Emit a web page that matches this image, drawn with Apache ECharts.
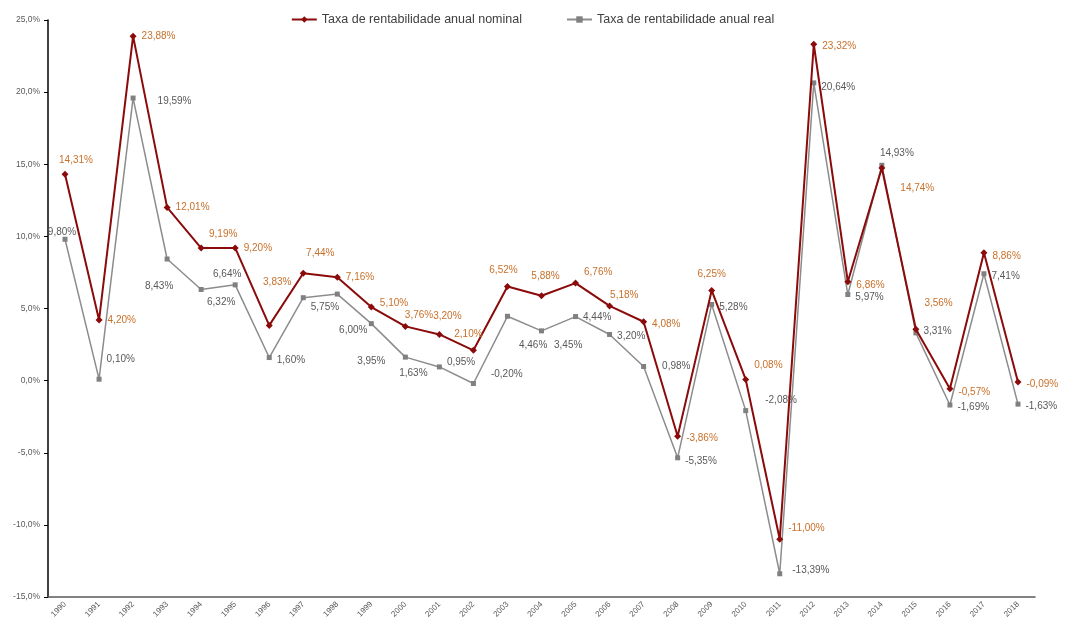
<!DOCTYPE html>
<html>
<head>
<meta charset="utf-8">
<script src="https://cdn.jsdelivr.net/npm/echarts@6/dist/echarts.min.js"></script>
<style>
  html, body { margin: 0; padding: 0; background: #fff; }
  #main { width: 1065px; height: 629px; }
</style>
</head>
<body>
<div id="main"></div>
<script>
// anos
var years = ['1990','1991','1992','1993','1994','1995','1996','1997','1998','1999',
  '2000','2001','2002','2003','2004','2005','2006','2007','2008','2009',
  '2010','2011','2012','2013','2014','2015','2016','2017','2018'];

// taxa nominal (%)
var nominal = [14.31, 4.20, 23.88, 12.01, 9.19, 9.20, 3.83, 7.44, 7.16, 5.10,
  3.76, 3.20, 2.10, 6.52, 5.88, 6.76, 5.18, 4.08, -3.86, 6.25,
  0.08, -11.00, 23.32, 6.86, 14.74, 3.56, -0.57, 8.86, -0.09];

// taxa real (%)
var real = [9.80, 0.10, 19.59, 8.43, 6.32, 6.64, 1.60, 5.75, 6.00, 3.95,
  1.63, 0.95, -0.20, 4.46, 3.45, 4.44, 3.20, 0.98, -5.35, 5.28,
  -2.08, -13.39, 20.64, 5.97, 14.93, 3.31, -1.69, 7.41, -1.63];

// posição das etiquetas (como no Excel, algumas deslocadas à mão)
var nominalPos = ['top','right','right','right','top','right','top','top','right','right',
  'right','top','top','top','top','right','right','right','right','top',
  'right','right','right','right','right','right','right','right','right'];
var nominalOff = [[11,0],[0,0],[0,0],[0,0],[22,0],[0,0],[8,-30],[17,-7],[0,0],[0,-4],
  [-9,-11],[8,-5],[-5,-3],[-4,-3],[4,-6],[0,-11],[-8,-11],[0,2],[0,2],[0,-3],
  [0,-14],[0,-11],[0,2],[0,4],[10,20],[0,-26],[0,3],[0,3],[0,2]];
var realPos = ['top','right','right','bottom','bottom','top','right','right','bottom','bottom',
  'bottom','right','right','right','right','right','right','right','right','right',
  'right','right','right','right','top','right','right','right','right'];
var realOff = [[-3,5],[0,-20],[17,3],[-8,15],[20,0],[-8,2],[0,3],[0,10],[16,24],[0,25],
  [8,4],[0,-5],[10,-9],[4,29],[5,14],[0,1],[0,2],[11,0],[0,3],[0,3],
  [12,-10],[5,-4],[0,4],[0,3],[15,0],[0,-2],[0,2],[0,3],[0,2]];

function pct(v, d) {
  return v.toFixed(d).replace('.', ',') + '%';
}

function build(values, pos, off) {
  return values.map(function (v, i) {
    return { value: v, label: { position: pos[i], offset: off[i] } };
  });
}

var myChart = echarts.init(document.getElementById('main'));
myChart.setOption({
  animation: false,
  textStyle: { fontFamily: 'Liberation Sans' },
  legend: {
    top: 8,
    left: 'center',
    itemGap: 44,
    itemWidth: 25,
    itemHeight: 8,
    textStyle: { fontSize: 12.5, color: '#404040' },
    data: ['Taxa de rentabilidade anual nominal', 'Taxa de rentabilidade anual real']
  },
  grid: { left: 48, right: 30, top: 20, bottom: 32 },
  xAxis: {
    type: 'category',
    data: years,
    axisLine: { onZero: false, lineStyle: { color: '#595959', width: 1.5 } },
    axisTick: { lineStyle: { color: '#595959' }, length: 3 },
    axisLabel: { rotate: 45, fontSize: 8, color: '#595959', margin: 6 }
  },
  yAxis: {
    type: 'value',
    min: -15,
    max: 25,
    interval: 5,
    splitLine: { show: false },
    axisLine: { show: true, lineStyle: { color: '#000', width: 1.5 } },
    axisTick: { show: true, inside: false, length: 4, lineStyle: { color: '#000' } },
    axisLabel: {
      fontSize: 8.5, color: '#595959', margin: 8,
      formatter: function (v) { return pct(v, 1); }
    }
  },
  series: [
    {
      name: 'Taxa de rentabilidade anual nominal',
      type: 'line',
      data: build(nominal, nominalPos, nominalOff),
      symbol: 'diamond',
      symbolSize: 7,
      itemStyle: { color: '#8b0a0a' },
      lineStyle: { color: '#8b0a0a', width: 2 },
      label: {
        show: true, fontSize: 10, color: '#c8702a', distance: 5,
        formatter: function (p) { return pct(p.value, 2); }
      },
      z: 3
    },
    {
      name: 'Taxa de rentabilidade anual real',
      type: 'line',
      data: build(real, realPos, realOff),
      symbol: 'rect',
      symbolSize: 5,
      itemStyle: { color: '#808080' },
      lineStyle: { color: '#8c8c8c', width: 1.5 },
      label: {
        show: true, fontSize: 10, color: '#595959', distance: 5,
        formatter: function (p) { return pct(p.value, 2); }
      },
      z: 2
    }
  ]
});
</script>
</body>
</html>
